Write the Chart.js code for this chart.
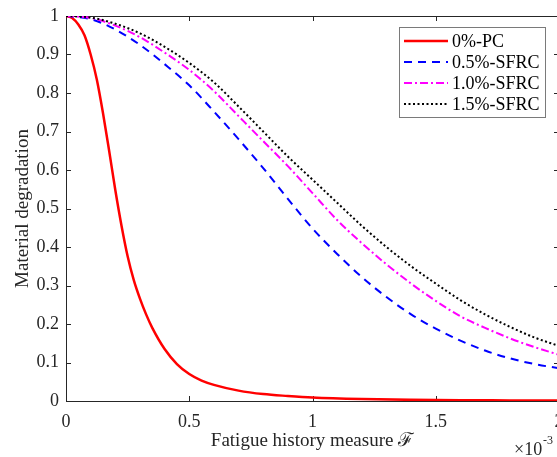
<!DOCTYPE html>
<html>
<head>
<meta charset="utf-8">
<script src="https://cdn.jsdelivr.net/npm/chart.js@4.4.1/dist/chart.umd.min.js"></script>
<style>
  html, body { margin: 0; padding: 0; background: #fff; overflow: hidden; width: 557px; height: 457px; }
  #wrap { position: absolute; left: 0; top: 0; width: 570px; height: 457px; }
  canvas { display: block; }
</style>
</head>
<body>
<div id="wrap"><canvas id="c" width="570" height="457"></canvas></div>
<script>
// ---- data (x in units of 1e-3) ----
const seriesLabels = ['0%-PC', '0.5%-SFRC', '1.0%-SFRC', '1.5%-SFRC'];
const xTicks = [0, 0.5, 1, 1.5, 2];
const yTicks = [0, 0.1, 0.2, 0.3, 0.4, 0.5, 0.6, 0.7, 0.8, 0.9, 1];

const xPC = [0, 0.025, 0.05, 0.075, 0.1, 0.125, 0.15, 0.175, 0.2, 0.225, 0.25, 0.275, 0.3, 0.325, 0.35, 0.4, 0.45, 0.5, 0.55, 0.6, 0.7, 0.8, 0.9, 1.0, 1.2, 1.4, 1.6, 1.8, 2.0];
const yPC = [1, 0.995, 0.978, 0.95, 0.9, 0.835, 0.748, 0.65, 0.548, 0.456, 0.376, 0.314, 0.266, 0.225, 0.19, 0.135, 0.096, 0.07, 0.053, 0.042, 0.027, 0.018, 0.013, 0.009, 0.005, 0.003, 0.002, 0.0015, 0.001];

const xSF = [0, 0.1, 0.2, 0.3, 0.4, 0.5, 0.6, 0.7, 0.8, 0.9, 1.0, 1.1, 1.2, 1.3, 1.4, 1.5, 1.6, 1.7, 1.8, 1.9, 2.0];
const ySF05 = [1, 0.992, 0.965, 0.925, 0.875, 0.82, 0.752, 0.68, 0.605, 0.525, 0.448, 0.382, 0.322, 0.27, 0.225, 0.188, 0.157, 0.131, 0.111, 0.096, 0.085];
const ySF10 = [1, 0.995, 0.975, 0.945, 0.905, 0.86, 0.805, 0.74, 0.675, 0.61, 0.54, 0.47, 0.41, 0.355, 0.305, 0.26, 0.22, 0.19, 0.163, 0.14, 0.12];
const ySF15 = [1, 0.996, 0.98, 0.955, 0.92, 0.878, 0.828, 0.765, 0.7, 0.635, 0.575, 0.515, 0.455, 0.4, 0.35, 0.305, 0.262, 0.225, 0.193, 0.165, 0.143];

const pts = (xs, ys) => xs.map((x, i) => ({ x: x, y: ys[i] }));

const AXIS = '#262626';
const FONT = "'Liberation Serif', 'Times New Roman', serif";

function noPad(s) { s.paddingTop = 0; s.paddingBottom = 0; s.paddingLeft = 0; s.paddingRight = 0; }

const boxPlugin = {
  id: 'matlabBox',
  beforeDatasetsDraw(chart) {
    const { ctx, chartArea: a, scales } = chart;
    ctx.save();
    ctx.strokeStyle = AXIS;
    ctx.lineWidth = 1;
    ctx.beginPath();
    ctx.rect(Math.round(a.left) + 0.5, Math.round(a.top) + 0.5, Math.round(a.right - a.left), Math.round(a.bottom - a.top));
    const tl = 5;
    scales.x.ticks.forEach(t => {
      const px = Math.round(scales.x.getPixelForValue(t.value)) + 0.5;
      ctx.moveTo(px, a.bottom); ctx.lineTo(px, a.bottom - tl);
      ctx.moveTo(px, a.top); ctx.lineTo(px, a.top + tl);
    });
    scales.y.ticks.forEach(t => {
      const py = Math.round(scales.y.getPixelForValue(t.value)) + 0.5;
      ctx.moveTo(a.left, py); ctx.lineTo(a.left + tl, py);
      ctx.moveTo(a.right, py); ctx.lineTo(a.right - tl, py);
    });
    ctx.stroke();
    ctx.restore();
  },
  afterDraw(chart) {
    const { ctx } = chart;
    ctx.save();
    // exponent label
    ctx.fillStyle = AXIS;
    ctx.textBaseline = 'alphabetic';
    ctx.textAlign = 'left';
    ctx.font = '18px ' + FONT;
    ctx.fillText('\u00d710', 514, 455);
    ctx.font = '12px ' + FONT;
    ctx.fillText('-3', 543, 444);

    // legend
    const lx = 399.5, ly = 27.5, lw = 146, lh = 90;
    ctx.fillStyle = '#ffffff';
    ctx.fillRect(lx, ly, lw, lh);
    ctx.strokeStyle = '#7a7a7a';
    ctx.lineWidth = 1;
    ctx.strokeRect(lx, ly, lw, lh);
    const rows = [41, 62, 83, 104];
    chart.data.datasets.forEach((ds, i) => {
      ctx.save();
      ctx.strokeStyle = ds.borderColor;
      ctx.lineWidth = ds.borderWidth;
      ctx.setLineDash(ds.borderDash || []);
      ctx.beginPath();
      ctx.moveTo(404, rows[i]);
      ctx.lineTo(448, rows[i]);
      ctx.stroke();
      ctx.restore();
      ctx.fillStyle = '#000';
      ctx.font = '18px ' + FONT;
      ctx.textBaseline = 'middle';
      ctx.fillText(ds.label, 452, rows[i] + 1);
    });
    ctx.restore();
  }
};

new Chart(document.getElementById('c'), {
  type: 'line',
  data: {
    datasets: [
      { label: seriesLabels[0], data: pts(xPC, yPC), borderColor: '#ff0000', borderWidth: 2.5, borderDash: [], order: 4 },
      { label: seriesLabels[1], data: pts(xSF, ySF05), borderColor: '#0000ff', borderWidth: 2, borderDash: [8, 6], order: 3 },
      { label: seriesLabels[2], data: pts(xSF, ySF10), borderColor: '#ff00ff', borderWidth: 2, borderDash: [8, 3, 2, 3], order: 2 },
      { label: seriesLabels[3], data: pts(xSF, ySF15), borderColor: '#000000', borderWidth: 2, borderDash: [2, 2.5], order: 1 }
    ]
  },
  options: {
    responsive: false,
    animation: false,
    devicePixelRatio: 1,
    layout: { padding: { left: 0, top: 16, right: 11, bottom: 0 } },
    elements: { point: { radius: 0 }, line: { cubicInterpolationMode: 'monotone', fill: false } },
    plugins: { legend: { display: false }, tooltip: { enabled: false } },
    scales: {
      x: {
        type: 'linear', min: 0, max: 2,
        afterFit(s) { s.height = 56; noPad(s); },
        afterBuildTicks(s) { s.ticks = xTicks.map(v => ({ value: v })); },
        grid: { display: false, drawTicks: false },
        border: { display: false },
        ticks: { color: AXIS, font: { family: FONT, size: 18 }, padding: 10, maxRotation: 0,
                 callback: v => String(Number(v.toFixed(1))) },
        title: { display: true, text: 'Fatigue history measure \u2131', color: AXIS,
                 font: { family: FONT, size: 19 }, padding: { top: 0, bottom: 5 } }
      },
      y: {
        type: 'linear', min: 0, max: 1,
        afterFit(s) { s.width = 66; noPad(s); },
        afterBuildTicks(s) { s.ticks = yTicks.map(v => ({ value: v })); },
        grid: { display: false, drawTicks: false },
        border: { display: false },
        ticks: { color: AXIS, font: { family: FONT, size: 18 }, padding: 7,
                 callback: v => String(Number(v.toFixed(1))) },
        title: { display: true, text: 'Material degradation', color: AXIS,
                 font: { family: FONT, size: 19 }, padding: { top: 12, bottom: 0 } }
      }
    }
  },
  plugins: [boxPlugin]
});
</script>
</body>
</html>
